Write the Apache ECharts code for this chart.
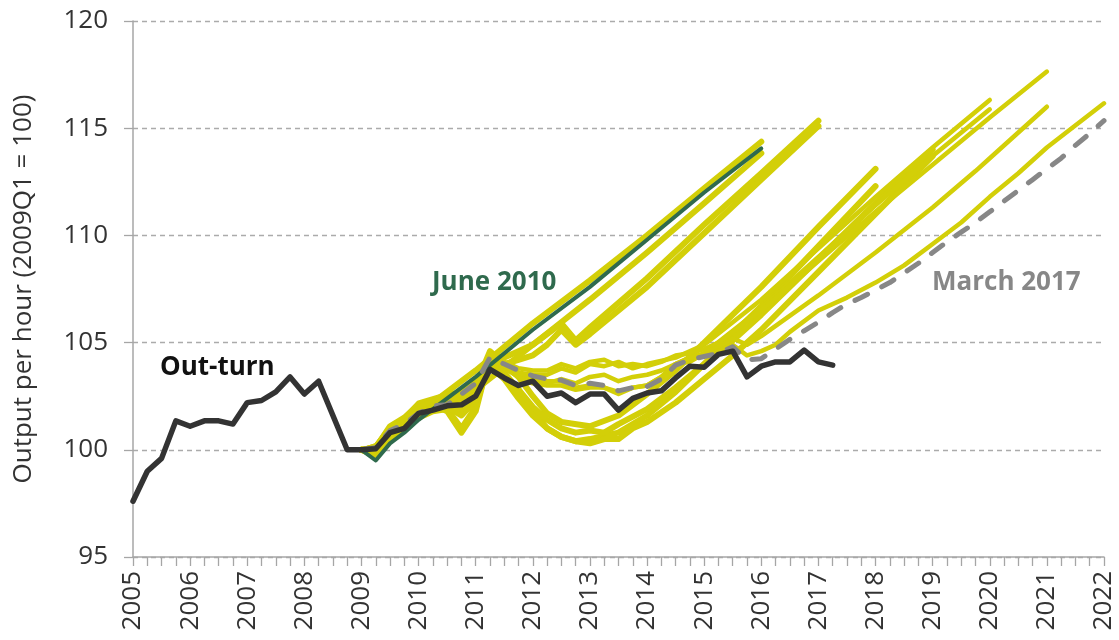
<!DOCTYPE html>
<html><head><meta charset="utf-8">
<script src="https://cdn.jsdelivr.net/npm/echarts@6/dist/echarts.min.js"></script>
<style>html,body{margin:0;padding:0;background:#fff}#c{width:1119px;height:640px}</style>
</head><body><div id="c"></div>
<script>
// Out-turn, quarterly from 2005Q1
const outturnStart = 2005;
const outturn = [97.6, 99.0, 99.6, 101.35, 101.1, 101.35, 101.35, 101.2, 102.2, 102.3,
  102.7, 103.4, 102.6, 103.2, 101.6, 100.0, 100.0, 100.05, 100.8, 101.0,
  101.7, 101.85, 102.05, 102.1, 102.5, 103.75, 103.35, 103.0, 103.2, 102.5,
  102.65, 102.2, 102.6, 102.6, 101.85, 102.4, 102.65, 102.75, 103.35, 103.9,
  103.85, 104.45, 104.6, 103.4, 103.9, 104.1, 104.1, 104.65, 104.1, 103.95];

// Forecast vintages: [year, index]
const jun2010 = [[2009,100],[2009.25,99.5],[2009.5,100.3],[2009.75,100.8],[2010,101.4],[2010.25,101.9],[2011,103.4],[2012,105.6],[2013,107.6],[2014,109.8],[2015,112.0],[2016,114.06]];
const nov2010 = [[2009,100],[2009.25,99.8],[2009.5,100.7],[2009.75,101.2],[2010,101.8],[2010.25,102.2],[2010.5,102.7],[2011,103.7],[2012,105.9],[2013,107.9],[2014,110.0],[2015,112.2],[2016,114.37]];
const mar2011 = [[2009,100],[2009.25,99.7],[2009.5,100.5],[2009.75,101.0],[2010,101.6],[2010.25,102.0],[2010.5,102.3],[2010.75,102.4],[2011,102.8],[2012,104.9],[2013,107.0],[2014,109.2],[2015,111.5],[2016,113.83]];
const nov2011 = [[2009,100],[2009.25,100.1],[2009.5,101.0],[2009.75,101.3],[2010,101.9],[2010.25,102.1],[2010.5,101.8],[2010.75,100.8],[2011,101.8],[2011.25,104.4],[2011.5,104.3],[2011.75,104.6],[2012,104.9],[2012.25,105.4],[2012.5,105.9],[2012.75,105.1],[2013,105.7],[2014,108.0],[2015,110.5],[2016,112.9],[2017,115.35]];
const mar2012 = [[2009,100],[2009.25,99.9],[2009.5,100.8],[2009.75,101.1],[2010,101.7],[2010.25,101.9],[2010.5,101.9],[2010.75,101.0],[2011,102.0],[2011.25,104.3],[2011.5,104.0],[2011.75,104.2],[2012,104.4],[2012.25,104.9],[2012.5,105.6],[2012.75,104.9],[2013,105.4],[2014,107.6],[2015,110.1],[2016,112.6],[2017,115.1]];
const dec2012 = [[2009,100],[2009.25,100.1],[2009.5,101.1],[2009.75,101.5],[2010,102.1],[2010.25,102.3],[2010.5,102.4],[2010.75,102.3],[2011,103.0],[2011.25,104.6],[2011.5,104.0],[2011.75,103.4],[2012,102.5],[2012.25,101.7],[2012.5,101.3],[2013,101.1],[2013.5,101.6],[2014,102.6],[2014.5,103.7],[2015,105.0],[2015.5,106.3],[2016,107.6],[2017,110.4],[2018,113.1]];
const mar2013 = [[2009,100],[2009.25,99.9],[2009.5,100.7],[2009.75,101.0],[2010,101.6],[2010.25,101.9],[2010.5,102.0],[2010.75,101.6],[2011,102.3],[2011.25,104.2],[2011.5,103.6],[2011.75,102.8],[2012,101.8],[2012.25,101.0],[2012.5,100.6],[2012.75,100.4],[2013,100.5],[2013.5,100.8],[2014,101.6],[2014.5,102.7],[2015,104.0],[2015.5,105.4],[2016,106.7],[2017,109.5],[2018,112.3]];
const dec2013 = [[2009,100],[2009.25,100.0],[2009.5,100.9],[2009.75,101.2],[2010,101.8],[2010.25,102.0],[2010.5,102.2],[2010.75,102.1],[2011,102.6],[2011.25,104.0],[2011.5,103.5],[2011.75,102.8],[2012,102.0],[2012.25,101.4],[2012.5,101.0],[2012.75,100.8],[2013,100.9],[2013.25,100.8],[2013.5,101.2],[2014,101.9],[2014.5,102.9],[2015,104.0],[2015.5,105.1],[2016,106.3],[2017,108.9],[2018,111.5],[2019,114.0]];
const mar2014 = [[2009,100],[2009.25,99.8],[2009.5,100.6],[2009.75,101.0],[2010,101.5],[2010.25,101.8],[2010.5,101.9],[2010.75,101.9],[2011,102.4],[2011.25,103.9],[2011.5,103.3],[2011.75,102.4],[2012,101.6],[2012.25,101.0],[2012.5,100.6],[2012.75,100.4],[2013,100.3],[2013.25,100.5],[2013.5,100.5],[2013.75,101.0],[2014,101.3],[2014.5,102.2],[2015,103.3],[2015.5,104.4],[2016,105.6],[2017,108.3],[2018,111.0],[2019,113.7]];
const dec2014 = [[2009,100],[2009.25,100.2],[2009.5,101.1],[2009.75,101.5],[2010,102.2],[2010.25,102.4],[2010.5,102.6],[2010.75,102.7],[2011,103.2],[2011.25,104.4],[2011.5,104.0],[2011.75,103.6],[2012,103.5],[2012.25,103.5],[2012.5,103.8],[2012.75,103.6],[2013,104.0],[2013.25,103.9],[2013.5,104.1],[2013.75,103.8],[2014,104.0],[2014.5,104.3],[2015,104.9],[2016,107.0],[2017,109.4],[2018,111.8],[2019,114.1],[2020,116.32]];
const mar2015 = [[2009,100],[2009.25,100.1],[2009.5,101.0],[2009.75,101.3],[2010,102.0],[2010.25,102.2],[2010.5,102.4],[2010.75,102.4],[2011,103.0],[2011.25,104.3],[2011.5,103.9],[2011.75,103.4],[2012,103.3],[2012.25,103.1],[2012.5,103.3],[2012.75,103.1],[2013,103.4],[2013.25,103.5],[2013.5,103.2],[2013.75,103.4],[2014,103.5],[2014.25,103.7],[2014.5,104.0],[2014.75,104.1],[2015,104.5],[2016,106.6],[2017,109.0],[2018,111.4],[2019,113.7],[2020,115.88]];
const jul2015 = [[2009,100],[2009.25,100.2],[2009.5,101.0],[2009.75,101.4],[2010,102.0],[2010.25,102.3],[2010.5,102.5],[2010.75,102.6],[2011,103.1],[2011.25,104.5],[2011.5,104.1],[2011.75,103.8],[2012,103.7],[2012.25,103.7],[2012.5,104.0],[2012.75,103.8],[2013,104.1],[2013.25,104.2],[2013.5,103.9],[2013.75,104.0],[2014,103.9],[2014.25,104.1],[2014.5,104.4],[2014.75,104.5],[2015,104.7],[2015.25,105.0],[2016,106.5],[2017,108.8],[2018,111.1],[2019,113.3],[2020,115.5],[2021,117.64]];
const mar2016 = [[2009,100],[2009.25,100.0],[2009.5,100.8],[2009.75,101.1],[2010,101.6],[2010.25,101.9],[2010.5,102.0],[2010.75,102.4],[2011,102.9],[2011.25,104.0],[2011.5,103.8],[2011.75,103.4],[2012,103.1],[2012.25,103.0],[2012.5,103.0],[2012.75,102.8],[2013,102.9],[2013.25,102.9],[2013.5,102.6],[2013.75,102.9],[2014,103.0],[2014.25,103.4],[2014.5,104.0],[2014.75,104.3],[2015,104.5],[2015.25,104.8],[2015.5,105.2],[2015.75,104.9],[2016,105.3],[2017,107.2],[2018,109.2],[2019,111.3],[2019.75,113.0],[2020,113.6],[2021,116.0]];
const nov2016 = [[2009,100],[2009.25,100.1],[2009.5,100.9],[2009.75,101.2],[2010,101.7],[2010.25,102.0],[2010.5,102.1],[2010.75,102.6],[2011,103.1],[2011.25,104.2],[2011.5,103.9],[2011.75,103.6],[2012,103.4],[2012.25,103.2],[2012.5,103.2],[2012.75,102.9],[2013,103.0],[2013.25,102.9],[2013.5,102.7],[2013.75,102.9],[2014,103.0],[2014.25,103.4],[2014.5,104.0],[2014.75,104.3],[2015,104.4],[2015.25,104.6],[2015.5,104.9],[2015.75,104.4],[2016,104.6],[2016.25,104.9],[2016.5,105.5],[2017,106.5],[2017.5,107.1],[2018,107.8],[2018.5,108.6],[2019,109.6],[2019.5,110.6],[2020,111.8],[2020.5,112.9],[2021,114.1],[2022,116.16]];
const mar2017 = [[2009,100],[2009.25,100.1],[2009.5,100.9],[2009.75,101.2],[2010,101.7],[2010.25,102.05],[2010.5,102.1],[2010.75,102.6],[2011,103.1],[2011.25,104.3],[2011.5,104.0],[2011.75,103.7],[2012,103.45],[2012.25,103.3],[2012.5,103.25],[2012.75,103.0],[2013,103.1],[2013.25,103.0],[2013.5,102.75],[2013.75,102.9],[2014,102.95],[2014.25,103.3],[2014.5,103.95],[2014.75,104.2],[2015,104.35],[2015.25,104.5],[2015.5,104.8],[2015.75,104.2],[2016,104.25],[2016.25,104.7],[2016.5,105.15],[2016.75,105.55],[2017,105.95],[2017.25,106.4],[2017.5,106.8],[2017.75,107.1],[2018,107.45],[2018.25,107.8],[2018.5,108.25],[2018.75,108.7],[2019,109.2],[2019.25,109.7],[2019.5,110.15],[2019.75,110.6],[2020,111.1],[2020.25,111.6],[2020.5,112.1],[2020.75,112.6],[2021,113.1],[2021.25,113.6],[2021.5,114.2],[2021.75,114.75],[2022,115.35]];

const yellowEarly = [nov2010, mar2011, nov2011, mar2012, dec2012, mar2013, dec2013, mar2014];
const yellowLate = [dec2014, mar2015, jul2015, mar2016, nov2016];
const yTicks = {min: 95, max: 120, step: 5};
const xTicks = {min: 2005, max: 2022, step: 1};

const YELLOW = '#D3CF08', GREEN = '#2F6A4D', GREY = '#878787', BLACK = '#333333';
const FONT = '"Open Sans", "Noto Sans", sans-serif';

function lineSeries(data, color, width, extra) {
  return Object.assign({
    type: 'line', data: data, showSymbol: false, symbol: 'none', silent: true,
    lineStyle: {color: color, width: width, cap: 'round', join: 'round'}
  }, extra || {});
}
const series = [];
yellowEarly.forEach(d => series.push(lineSeries(d, YELLOW, 6)));
yellowLate.forEach(d => series.push(lineSeries(d, YELLOW, 4.5)));
series.push(lineSeries(jun2010, GREEN, 4));
series.push({type: 'line', data: mar2017, showSymbol: false, symbol: 'none', silent: true,
  lineStyle: {color: GREY, width: 5, type: [14, 16], cap: 'round', join: 'round'}});
series.push(lineSeries(outturn.map((v, i) => [outturnStart + i / 4, v]), BLACK, 5.5));

const chart = echarts.init(document.getElementById('c'), null, {renderer: 'canvas'});
chart.setOption({
  animation: false,
  backgroundColor: '#ffffff',
  grid: {left: 133, right: 15, top: 21, bottom: 83, containLabel: false},
  xAxis: {
    type: 'value', min: xTicks.min, max: xTicks.max, interval: xTicks.step,
    axisLine: {show: true, onZero: false, lineStyle: {color: '#a6a6a6', width: 1.5}},
    axisTick: {show: true, length: 9, lineStyle: {color: '#a6a6a6', width: 1.3}},
    minorTick: {show: true, splitNumber: 4, length: 9, lineStyle: {color: '#a6a6a6', width: 1.3}},
    splitLine: {show: false},
    axisLabel: {rotate: 90, margin: 14, fontSize: 26, color: '#333', fontFamily: FONT, formatter: v => String(v)}
  },
  yAxis: {
    type: 'value', min: yTicks.min, max: yTicks.max, interval: yTicks.step,
    name: 'Output per hour (2009Q1 = 100)', nameLocation: 'middle', nameGap: 96,
    nameTextStyle: {fontSize: 26, color: '#333', fontFamily: FONT},
    axisLine: {show: true, lineStyle: {color: '#a6a6a6', width: 1.5}},
    axisTick: {show: true, length: 9, lineStyle: {color: '#a6a6a6', width: 1.3}},
    splitLine: {show: true, lineStyle: {color: '#ababab', width: 1.3, type: [5, 4]}},
    axisLabel: {margin: 25, fontSize: 26, color: '#333', fontFamily: FONT}
  },
  graphic: [
    {type: 'text', x: 160, y: 368, silent: true, style: {text: 'Out-turn', fill: '#111', font: 'bold 26px ' + FONT, align: 'left', verticalAlign: 'middle'}},
    {type: 'text', x: 432, y: 283, silent: true, style: {text: 'June 2010', fill: GREEN, font: 'bold 26px ' + FONT, align: 'left', verticalAlign: 'middle'}},
    {type: 'text', x: 932, y: 283, silent: true, style: {text: 'March 2017', fill: GREY, font: 'bold 26px ' + FONT, align: 'left', verticalAlign: 'middle'}}
  ],
  series: series
});
</script></body></html>
